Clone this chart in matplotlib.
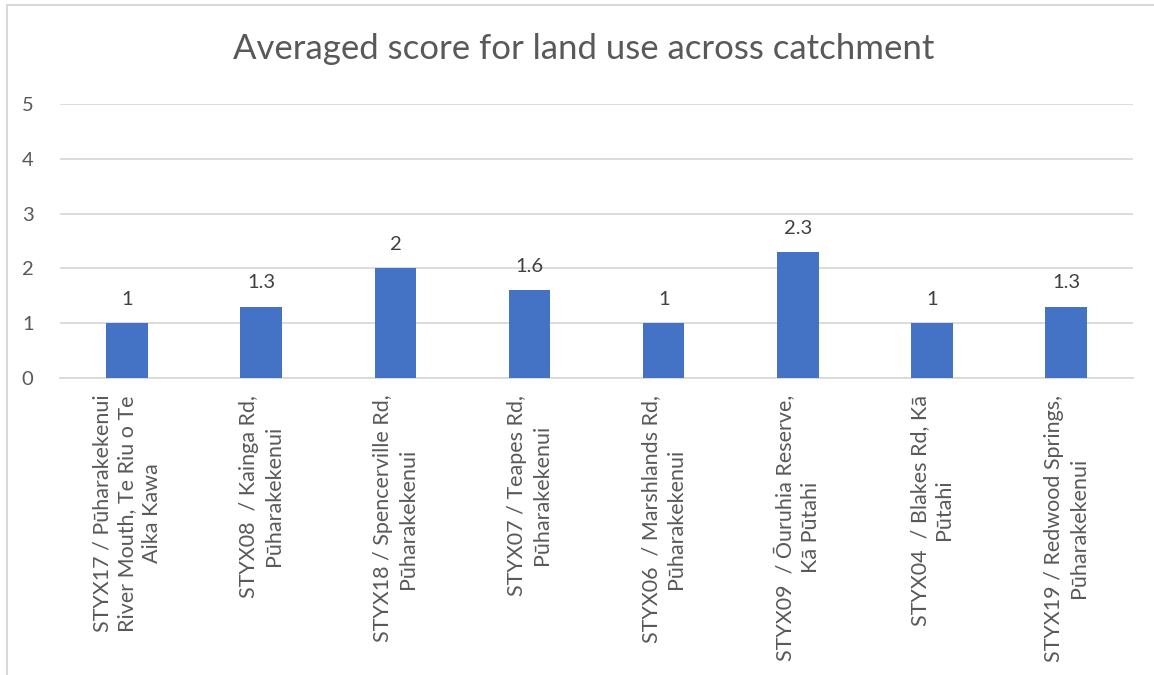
import matplotlib
matplotlib.use("Agg")
import matplotlib.pyplot as plt
from matplotlib.lines import Line2D

plt.rcParams['font.family'] = ['Lato', 'DejaVu Sans']

sites = [
    "STYX17 / Pūharakekenui\nRiver Mouth, Te Riu o Te\nAika Kawa",
    "STYX08  / Kainga Rd,\nPūharakekenui",
    "STYX18 / Spencerville Rd,\nPūharakekenui",
    "STYX07 / Teapes Rd,\nPūharakekenui",
    "STYX06  / Marshlands Rd,\nPūharakekenui",
    "STYX09  / Ōuruhia Reserve,\nKā Pūtahi",
    "STYX04  / Blakes Rd, Kā\nPūtahi",
    "STYX19 / Redwood Springs,\nPūharakekenui",
]
scores = [1, 1.3, 2, 1.6, 1, 2.3, 1, 1.3]
score_labels = ["1", "1.3", "2", "1.6", "1", "2.3", "1", "1.3"]
yticks = [0, 1, 2, 3, 4, 5]

text_col = '#595959'
grid_col = '#d9d9d9'

fig = plt.figure(figsize=(11.54, 6.75), dpi=100)
ax = fig.add_axes([0.052, 0.44, 0.930, 0.406])

x = range(len(sites))
bars = ax.bar(x, scores, width=0.31, color='#4472c4', zorder=3)
for b, lab in zip(bars, score_labels):
    ax.annotate(lab, (b.get_x() + b.get_width() / 2, b.get_height()),
                xytext=(0, 11), textcoords='offset points',
                ha='center', va='bottom', fontsize=14.5, color='#404040')

ax.set_xlim(-0.5, len(sites) - 0.5)
ax.set_ylim(0, 5)
ax.set_yticks(yticks)
ax.set_yticklabels([str(t) for t in yticks])
ax.grid(axis='y', color=grid_col, linewidth=1.3, zorder=0)
for s in ['top', 'right', 'left']:
    ax.spines[s].set_visible(False)
ax.spines['bottom'].set_color(grid_col)
ax.spines['bottom'].set_linewidth(1.3)
ax.tick_params(axis='both', length=0, colors=text_col)
ax.tick_params(axis='y', pad=19, labelsize=14.5)
ax.set_xticks(list(x))
ax.set_xticklabels(sites, rotation=90, ha='center', va='top',
                   multialignment='center', fontsize=15.5, linespacing=1.3)
ax.tick_params(axis='x', pad=12)

fig.text(0.506, 0.927, "Averaged score for land use across catchment",
         ha='center', va='center', fontsize=25, color=text_col)

# chart area border (top and left visible in the reference)
fig.add_artist(Line2D([0.006, 1.0], [0.992, 0.992], color=grid_col, lw=1.5))
fig.add_artist(Line2D([0.006, 0.006], [0.0, 0.992], color=grid_col, lw=1.5))

fig.savefig('out.png', dpi=100, facecolor='white')
